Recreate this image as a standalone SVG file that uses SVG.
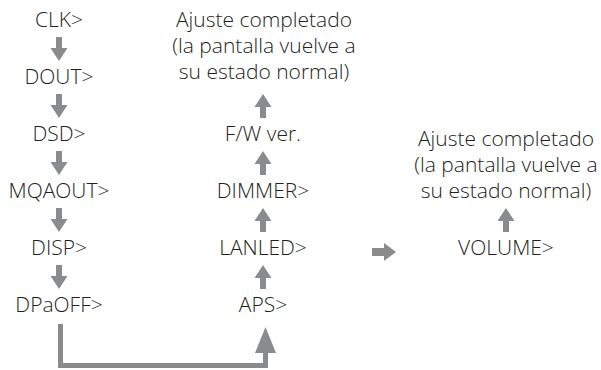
<svg xmlns="http://www.w3.org/2000/svg" width="601" height="370" viewBox="0 0 601 370">
  <defs>
    <style>
      .t { font-family: "Open Sans", "Noto Sans", "Liberation Sans", sans-serif; font-weight: 300; font-size: 21px; fill: #231f20; text-anchor: middle; }
      .a { fill: #8a8b8d; }
      .c { fill: none; stroke: #8a8b8d; stroke-width: 5; stroke-linejoin: miter; }
    </style>
    <path id="down" d="M-3,-12 H3 V-1 H8.5 L0,12 L-8.5,-1 H-3 Z"/>
    <path id="up" d="M-3,12 H3 V1 H8.5 L0,-12 L-8.5,1 H-3 Z"/>
  </defs>
  <rect width="601" height="370" fill="#ffffff"/>

  <g id="n-clk"><text class="t" x="59" y="27">CLK&gt;</text></g>
  <g id="n-dout"><text class="t" x="59" y="84">DOUT&gt;</text></g>
  <g id="n-dsd"><text class="t" x="59" y="141">DSD&gt;</text></g>
  <g id="n-mqaout"><text class="t" x="59" y="198">MQAOUT&gt;</text></g>
  <g id="n-disp"><text class="t" x="59" y="255">DISP&gt;</text></g>
  <g id="n-dpaoff"><text class="t" x="59" y="312">DPaOFF&gt;</text></g>

  <g id="n-done1">
    <text class="t" x="264" y="27">Ajuste completado</text>
    <text class="t" x="264" y="53">(la pantalla vuelve a</text>
    <text class="t" x="264" y="79">su estado normal)</text>
  </g>
  <g id="n-fw"><text class="t" x="263" y="141">F/W ver.</text></g>
  <g id="n-dimmer"><text class="t" x="263" y="198">DIMMER&gt;</text></g>
  <g id="n-lanled"><text class="t" x="263" y="255">LANLED&gt;</text></g>
  <g id="n-aps"><text class="t" x="263" y="312">APS&gt;</text></g>

  <g id="n-done2">
    <text class="t" x="506" y="146">Ajuste completado</text>
    <text class="t" x="506" y="172">(la pantalla vuelve a</text>
    <text class="t" x="506" y="198">su estado normal)</text>
  </g>
  <g id="n-volume"><text class="t" x="506" y="255">VOLUME&gt;</text></g>

  <g id="connectors">
    <use href="#down" class="a" x="59" y="49"/>
    <use href="#down" class="a" x="59" y="106"/>
    <use href="#down" class="a" x="59" y="163"/>
    <use href="#down" class="a" x="59" y="220"/>
    <use href="#down" class="a" x="59" y="277"/>

    <use href="#up" class="a" x="263" y="106"/>
    <use href="#up" class="a" x="263" y="163"/>
    <use href="#up" class="a" x="263" y="220"/>
    <use href="#up" class="a" x="263" y="277"/>

    <use href="#up" class="a" x="506" y="220"/>

    <path class="a" d="M372,248 H384 V243 L396,252 L384,261 V256 H372 Z"/>

    <path class="c" d="M60.5,324 V365.5 H265.5 V352"/>
    <path class="a" d="M255,353 L265.5,327 L276,353 Z"/>
  </g>
</svg>
